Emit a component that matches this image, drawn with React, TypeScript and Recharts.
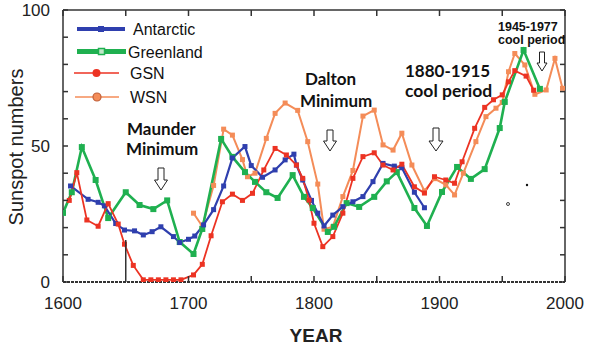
import React from "react";
import { LineChart, Line, XAxis, YAxis, Legend } from "recharts";

// Antarctic ice-core reconstruction
const antarcticYears = [1606, 1620, 1628, 1633, 1642, 1649, 1657, 1664, 1671, 1678, 1688, 1693, 1700, 1705, 1712, 1720, 1728, 1735, 1745, 1750, 1759, 1769, 1777, 1784, 1786, 1791, 1798, 1803, 1808, 1815, 1823, 1831, 1839, 1847, 1855, 1864, 1870, 1880, 1888];
const antarcticValues = [35.3, 30.4, 29.3, 28, 21.5, 19.1, 18.8, 17.3, 18.5, 20.3, 16.7, 14.5, 15.7, 16.9, 21, 26.6, 35.3, 45.6, 49.8, 42.8, 38.5, 41.2, 44.9, 47, 43, 37.5, 30, 25.3, 20.6, 24.6, 27.7, 29.5, 31.4, 36.9, 43.6, 42.6, 42, 33, 27.3];

// Greenland ice-core reconstruction
const greenlandYears = [1600, 1607, 1615, 1626, 1636, 1650, 1661, 1672, 1683, 1693, 1704, 1711, 1726, 1735, 1745, 1753, 1762, 1771, 1783, 1792, 1799, 1811, 1816, 1826, 1836, 1848, 1858, 1866, 1880, 1890, 1902, 1914, 1925, 1936, 1948, 1952, 1967, 1980];
const greenlandValues = [25.4, 33, 49.6, 37.5, 23.5, 33, 28.3, 26.8, 30, 14.7, 10.3, 19.5, 52.6, 46, 40.4, 36.8, 33, 30.9, 39.3, 31.3, 27.2, 18.4, 20.3, 29, 27.6, 31.3, 37, 40.4, 27.2, 20.6, 33.1, 42.3, 37.9, 41.5, 56.6, 66.2, 85.3, 71];

// Group sunspot number
const gsnYears = [1605, 1611, 1619, 1628, 1636, 1644, 1649, 1656, 1664, 1670, 1676, 1682, 1688, 1694, 1704, 1711, 1718, 1727, 1735, 1743, 1751, 1760, 1769, 1778, 1786, 1791, 1796, 1800, 1807, 1815, 1823, 1831, 1839, 1848, 1855, 1863, 1870, 1880, 1888, 1896, 1905, 1912, 1918, 1928, 1936, 1943, 1950, 1955, 1960, 1969, 1975];
const gsnValues = [30, 40.2, 22.8, 20.5, 28.8, 21.3, 13.9, 6.1, 0.8, 0.8, 0.8, 0.8, 0.8, 0.8, 2.6, 6.5, 17, 29.5, 32.3, 30, 32.6, 41.2, 49.1, 46.7, 43, 38.1, 30.1, 21.6, 13, 16.7, 25.3, 38.1, 46.1, 47.5, 43, 41.2, 43.3, 35, 32.7, 38.7, 37.5, 36.3, 44.2, 56.5, 64.2, 67, 68.8, 73.6, 77.7, 75.7, 70.5];

// Wolf sunspot number
const wsnYears = [1704, 1711, 1720, 1728, 1735, 1743, 1747, 1753, 1762, 1769, 1777, 1787, 1795, 1803, 1808, 1815, 1823, 1831, 1839, 1848, 1855, 1863, 1870, 1878, 1888, 1896, 1905, 1912, 1919, 1929, 1937, 1945, 1950, 1955, 1960, 1968, 1976, 1985, 1992, 1998];
const wsnValues = [25.3, 20.5, 35.5, 56.2, 54, 45, 38.7, 40, 52.8, 62, 65.8, 63.1, 51.6, 36, 19.4, 20.3, 31.4, 41, 61, 63.2, 50.4, 48.5, 54.7, 43, 33.5, 38, 35.7, 32, 40, 51.6, 60.8, 63.9, 66, 77.3, 84, 79.8, 69, 70.6, 82.2, 71.2];

const yearTicks = [1600, 1650, 1700, 1750, 1800, 1850, 1900, 1950, 2000];
const valueTicks = [0, 10, 20, 30, 40, 50, 60, 70, 80, 90, 100];

const BLUE = "#2f3fae";
const GREEN = "#1fb050";
const RED = "#ec3323";
const ORANGE = "#f48c58";
const AXIS = "#333";

const toPoints = (years: number[], values: number[]) =>
  years.map((year, i) => ({ year, value: values[i] }));

const squareDot = (color: string, size = 5) => (props: any) => {
  const { cx, cy, index } = props;
  if (cx == null || cy == null) return <g key={index} />;
  return <rect key={index} x={cx - size / 2} y={cy - size / 2} width={size} height={size} fill={color} />;
};

const tickFont = { fontFamily: "'Liberation Sans', Arial, sans-serif", fontSize: 17, fill: "#222" };

const BottomTick = (props: any) => {
  const { x, y, payload } = props;
  const len = payload.value === 1650 ? 42 : 6;
  return (
    <g>
      <line x1={x} x2={x} y1={y} y2={y - len} stroke={AXIS} strokeWidth={1.5} />
      {payload.value % 100 === 0 && (
        <text x={x} y={y + 27} textAnchor="middle" {...tickFont}>
          {payload.value}
        </text>
      )}
    </g>
  );
};

const TopTick = (props: any) => {
  const { x, y } = props;
  return <line x1={x} x2={x} y1={y} y2={y + 6} stroke={AXIS} strokeWidth={1.5} />;
};

const LeftTick = (props: any) => {
  const { x, y, payload } = props;
  return (
    <g>
      <line x1={x} x2={x + 5} y1={y} y2={y} stroke={AXIS} strokeWidth={1.5} />
      {payload.value % 50 === 0 && (
        <text x={x - 13} y={y + 6} textAnchor="end" {...tickFont}>
          {payload.value}
        </text>
      )}
    </g>
  );
};

const RightTick = (props: any) => {
  const { x, y } = props;
  return <line x1={x} x2={x - 5} y1={y} y2={y} stroke={AXIS} strokeWidth={1.5} />;
};

const legendRows = [
  { name: "Antarctic", color: BLUE, width: 4, marker: "square", y: 29, x0: 77, x1: 125, tx: 133 },
  { name: "Greenland", color: GREEN, width: 5, marker: "hollow", y: 51.5, x0: 77, x1: 126, tx: 128 },
  { name: "GSN", color: RED, width: 1.5, marker: "circle", y: 73, x0: 74, x1: 119, tx: 130 },
  { name: "WSN", color: ORANGE, width: 1.5, marker: "ring", y: 97, x0: 75, x1: 119, tx: 130 },
];

const ChartLegend = () => (
  <svg width={220} height={110}>
    {legendRows.map((r) => {
      const mx = (r.x0 + r.x1) / 2;
      return (
        <g key={r.name}>
          <line x1={r.x0} x2={r.x1} y1={r.y} y2={r.y} stroke={r.color} strokeWidth={r.width} />
          {r.marker === "square" && <rect x={mx - 3} y={r.y - 3} width={6} height={6} fill={r.color} />}
          {r.marker === "hollow" && (
            <rect x={mx - 3} y={r.y - 3} width={6} height={6} fill="#bfe8c8" stroke={r.color} strokeWidth={1.5} />
          )}
          {r.marker === "circle" && <circle cx={mx} cy={r.y} r={4} fill={r.color} />}
          {r.marker === "ring" && <circle cx={mx} cy={r.y} r={4} fill={ORANGE} stroke="#c0603a" strokeWidth={1.2} />}
          <text
            x={r.tx}
            y={r.y + 6}
            fontFamily="'Liberation Sans', Arial, sans-serif"
            fontSize={16}
            fill="#111"
          >
            {r.name}
          </text>
        </g>
      );
    })}
  </svg>
);

const arrowPath = (cx: number, y0: number, h: number, sw: number, hw: number, hh: number) =>
  `M${cx - sw / 2},${y0} L${cx + sw / 2},${y0} L${cx + sw / 2},${y0 + h - hh} L${cx + hw / 2},${y0 + h - hh} ` +
  `L${cx},${y0 + h} L${cx - hw / 2},${y0 + h - hh} L${cx - sw / 2},${y0 + h - hh} Z`;

const noteFont = { fontFamily: "Lato, 'Open Sans', sans-serif", fontWeight: 700, fill: "#111" };

export default function App() {
  return (
    <div style={{ position: "absolute", left: 0, top: 0, width: 600, height: 359, background: "#fff" }}>
      <LineChart
        width={600}
        height={359}
        margin={{ top: 5, right: 30, bottom: 47, left: 8 }}
      >
        <XAxis
          dataKey="year"
          type="number"
          domain={[1600, 2000]}
          allowDataOverflow
          ticks={yearTicks}
          interval={0}
          height={30}
          tickSize={0}
          tickMargin={0}
          tick={<BottomTick />}
          axisLine={{ stroke: AXIS, strokeWidth: 2, strokeDasharray: "3 1" }}
        />
        <XAxis
          xAxisId="top"
          orientation="top"
          dataKey="year"
          type="number"
          domain={[1600, 2000]}
          allowDataOverflow
          ticks={yearTicks}
          interval={0}
          height={5}
          tickSize={0}
          tickMargin={0}
          tick={<TopTick />}
          axisLine={{ stroke: AXIS, strokeWidth: 1.5 }}
        />
        <YAxis
          type="number"
          domain={[0, 100]}
          allowDataOverflow
          ticks={valueTicks}
          interval={0}
          width={55}
          tickSize={0}
          tickMargin={0}
          tick={<LeftTick />}
          axisLine={{ stroke: AXIS, strokeWidth: 1.5 }}
        />
        <YAxis
          yAxisId="right"
          orientation="right"
          type="number"
          domain={[0, 100]}
          allowDataOverflow
          ticks={valueTicks}
          interval={0}
          width={5}
          tickSize={0}
          tickMargin={0}
          tick={<RightTick />}
          axisLine={{ stroke: AXIS, strokeWidth: 1.5 }}
        />
        <Legend
          layout="vertical"
          align="center"
          verticalAlign="middle"
          wrapperStyle={{ left: 0, top: 0, width: 220, height: 110 }}
          content={() => <ChartLegend />}
        />
        <Line
          data={toPoints(wsnYears, wsnValues)}
          dataKey="value"
          name="WSN"
          stroke={ORANGE}
          strokeWidth={2}
          dot={squareDot(ORANGE, 5)}
          isAnimationActive={false}
        />
        <Line
          data={toPoints(greenlandYears, greenlandValues)}
          dataKey="value"
          name="Greenland"
          stroke={GREEN}
          strokeWidth={2.6}
          dot={squareDot(GREEN, 6)}
          isAnimationActive={false}
        />
        <Line
          data={toPoints(antarcticYears, antarcticValues)}
          dataKey="value"
          name="Antarctic"
          stroke={BLUE}
          strokeWidth={2.2}
          dot={squareDot(BLUE, 5)}
          isAnimationActive={false}
        />
        <Line
          data={toPoints(gsnYears, gsnValues)}
          dataKey="value"
          name="GSN"
          stroke={RED}
          strokeWidth={1.8}
          dot={squareDot(RED, 5)}
          isAnimationActive={false}
        />
      </LineChart>

      <svg
        width={600}
        height={359}
        style={{ position: "absolute", left: 0, top: 0, pointerEvents: "none" }}
      >
        <text
          x={23}
          y={147}
          transform="rotate(-90 23 147)"
          textAnchor="middle"
          fontFamily="'Liberation Sans', Arial, sans-serif"
          fontSize={20}
          fill="#222"
        >
          Sunspot numbers
        </text>
        <text
          x={316}
          y={342}
          textAnchor="middle"
          fontFamily="'Liberation Sans', Arial, sans-serif"
          fontWeight={700}
          fontSize={19}
          fill="#222"
        >
          YEAR
        </text>

        <text x={127} y={135} fontSize={17} {...noteFont}>Maunder</text>
        <text x={126} y={155} fontSize={17} {...noteFont}>Minimum</text>
        <text x={305} y={85} fontSize={17} {...noteFont}>Dalton</text>
        <text x={300} y={107} fontSize={17} {...noteFont}>Minimum</text>
        <text x={405} y={77} fontSize={17} {...noteFont}>1880-1915</text>
        <text x={405} y={97} fontSize={17.5} {...noteFont}>cool period</text>
        <text x={498} y={31} fontSize={12.5} fontFamily="'Liberation Sans', Arial, sans-serif" fontWeight={700} fill="#111">1945-1977</text>
        <text x={498} y={44} fontSize={12.5} fontFamily="'Liberation Sans', Arial, sans-serif" fontWeight={700} fill="#111">cool period</text>

        <g fill="#fff" stroke="#222" strokeWidth={1}>
          <path d={arrowPath(161, 168, 22, 6, 13, 10)} />
          <path d={arrowPath(330, 130, 21, 6, 13, 10)} />
          <path d={arrowPath(436, 128, 23, 6, 14, 10)} />
          <path d={arrowPath(542, 52, 19, 5, 10, 8)} />
        </g>
        <circle cx={527} cy={185} r={1.2} fill="#111" />
        <circle cx={508} cy={204} r={1.5} fill="none" stroke="#111" strokeWidth={0.8} />
      </svg>
    </div>
  );
}
